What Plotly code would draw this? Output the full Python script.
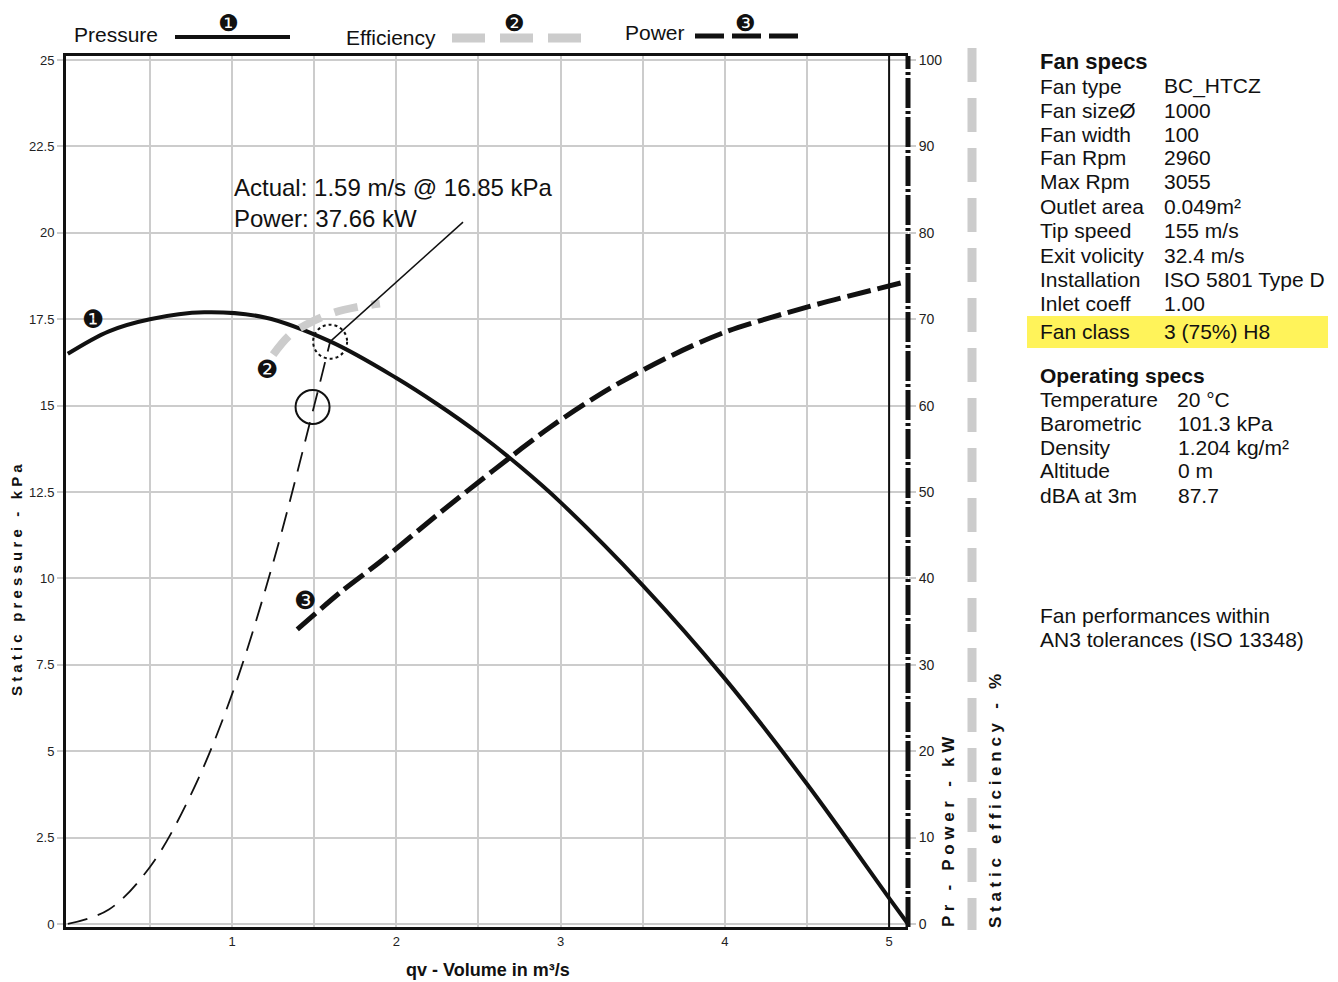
import plotly.graph_objects as go

# ---------------- data ----------------
press_q = [0.0, 0.25, 0.5, 0.83, 1.2, 1.6, 2.0, 2.25, 2.5, 2.75, 3.0, 3.5, 4.0, 4.5, 5.0, 5.115]
press_kpa = [16.5, 17.15, 17.5, 17.7, 17.55, 16.85, 15.8, 15.04, 14.2, 13.25, 12.2, 9.8, 7.1, 4.05, 0.75, 0.0]

power_q = [1.397, 1.66, 1.9, 2.246, 2.591, 2.936, 3.30, 3.687, 4.0, 4.5, 5.115]
power_kw = [34.1, 38.4, 41.9, 47.3, 52.5, 57.5, 62.0, 65.9, 68.5, 71.4, 74.4]

eff_q = [1.25, 1.354, 1.475, 1.627, 1.76, 1.90]
eff_pct = [65.9, 68.2, 69.6, 70.8, 71.4, 71.8]

sys_q = [0.0, 0.25, 0.5, 0.75, 1.0, 1.25, 1.5, 1.597]
sys_kpa = [0.0, 0.42, 1.65, 3.75, 6.65, 10.45, 15.0, 16.85]

marker_q = [1.49]
marker_kpa = [14.96]

op_q = 1.597
op_kpa = 16.85
leader_end_q = 2.406
leader_end_kpa = 20.31
q_limit = 5.0

x_tickvals = [0.5, 1, 1.5, 2, 2.5, 3, 3.5, 4, 4.5, 5]
x_ticktext = ["", "1", "", "2", "", "3", "", "4", "", "5"]
y_tickvals = [0, 2.5, 5, 7.5, 10, 12.5, 15, 17.5, 20, 22.5, 25]
y_ticktext = ["0", "2.5", "5", "7.5", "10", "12.5", "15", "17.5", "20", "22.5", "25"]
y2_tickvals = [0, 10, 20, 30, 40, 50, 60, 70, 80, 90, 100]

actual_text = "Actual: 1.59 m/s @ 16.85 kPa<br>Power: 37.66 kW"

spec_labels = ["Fan type", "Fan size\u00d8", "Fan width", "Fan Rpm", "Max Rpm", "Outlet area",
               "Tip speed", "Exit volicity", "Installation", "Inlet coeff", "Fan class"]
spec_values = ["BC_HTCZ", "1000", "100", "2960", "3055", "0.049m\u00b2",
               "155 m/s", "32.4 m/s", "ISO 5801 Type D", "1.00", "3 (75%) H8"]
op_labels = ["Temperature", "Barometric", "Density", "Altitude", "dBA at 3m"]
op_values = ["20 \u00b0C", "101.3 kPa", "1.204 kg/m\u00b2", "0 m", "87.7"]
note_lines = ["Fan performances within", "AN3 tolerances (ISO 13348)"]

# ---------------- layout helpers ----------------
OFF = 8                      # page body margin
W, H = 1338 - OFF, 982 - OFF
L, R, T, B = 66, 908, 56, 927  # plot area in screen pixels
X0, X1 = -0.011, 5.115
Y0, Y1 = -0.087, 25.116
PXU = (R - L) / (X1 - X0)
PYU = (B - T) / (Y1 - Y0)


def px(x):
    return (x - L) / (R - L)


def py(y):
    return (B - y) / (B - T)


FONT = "Liberation Sans, Arial, sans-serif"
BLACK = "#111111"
GREY = "#cccccc"

fig = go.Figure()

fig.add_trace(go.Scatter(x=sys_q, y=sys_kpa, mode="lines", yaxis="y",
                         line=dict(color=BLACK, width=1.8, dash="20px,11px", shape="spline"),
                         hoverinfo="skip", showlegend=False))
fig.add_trace(go.Scatter(x=press_q, y=press_kpa, mode="lines", yaxis="y",
                         line=dict(color=BLACK, width=4, shape="spline", smoothing=1.0),
                         name="Pressure", showlegend=False))
fig.add_trace(go.Scatter(x=power_q, y=power_kw, mode="lines", yaxis="y2",
                         line=dict(color=BLACK, width=5, dash="24px,7px", shape="spline", smoothing=0.8),
                         name="Power", showlegend=False))
fig.add_trace(go.Scatter(x=eff_q, y=eff_pct, mode="lines", yaxis="y3",
                         line=dict(color=GREY, width=8, dash="24px,14px", shape="spline"),
                         name="Efficiency", showlegend=False))
fig.add_trace(go.Scatter(x=marker_q, y=marker_kpa, mode="markers", yaxis="y",
                         marker=dict(symbol="circle-open", size=34, color=BLACK, line=dict(width=2, color=BLACK)),
                         hoverinfo="skip", showlegend=False))

shapes = []
shapes.append(dict(type="line", xref="x", yref="paper", x0=q_limit, x1=q_limit, y0=0, y1=1,
                   line=dict(color=BLACK, width=2)))
shapes.append(dict(type="line", xref="paper", yref="paper", x0=1, x1=1, y0=0, y1=1,
                   line=dict(color=BLACK, width=5, dash="30px,3px,3px,3px")))
shapes.append(dict(type="line", xref="paper", yref="paper", x0=px(972), x1=px(972), y0=py(48), y1=py(930),
                   line=dict(color=GREY, width=9, dash="34px,16px")))
shapes.append(dict(type="line", xref="x", yref="y", x0=op_q, y0=op_kpa, x1=leader_end_q, y1=leader_end_kpa,
                   line=dict(color=BLACK, width=1.5)))
rx, ry = 17 / PXU, 17 / PYU
shapes.append(dict(type="circle", xref="x", yref="y", x0=op_q - rx, x1=op_q + rx, y0=op_kpa - ry, y1=op_kpa + ry,
                   line=dict(color=BLACK, width=2, dash="dot")))
shapes.append(dict(type="rect", xref="paper", yref="paper", x0=px(1027), x1=px(1328), y0=py(348), y1=py(316),
                   fillcolor="#fff35a", line=dict(width=0), layer="below"))
shapes.append(dict(type="line", xref="paper", yref="paper", x0=px(175), x1=px(290), y0=py(37), y1=py(37),
                   line=dict(color=BLACK, width=4)))
shapes.append(dict(type="line", xref="paper", yref="paper", x0=px(452), x1=px(581), y0=py(38), y1=py(38),
                   line=dict(color=GREY, width=9, dash="33px,15px")))
shapes.append(dict(type="line", xref="paper", yref="paper", x0=px(695), x1=px(798), y0=py(36), y1=py(36),
                   line=dict(color=BLACK, width=5, dash="29px,8px")))

ann = []


def text(x, y, s, size=22, bold=False, xanchor="left", yanchor="middle", angle=0, color=BLACK, family=FONT):
    if bold:
        s = "<b>" + s + "</b>"
    ann.append(dict(x=px(x), y=py(y), xref="paper", yref="paper", text=s, showarrow=False,
                    xanchor=xanchor, yanchor=yanchor, textangle=angle,
                    font=dict(size=size, color=color, family=family)))


text(72, 34, "Pressure", 21)
text(344, 37, "Efficiency", 21)
text(623, 33, "Power", 21)
DING = "DejaVu Sans, sans-serif"
for (xx, ch) in [(228, "\u2776"), (514, "\u2777"), (745, "\u2778")]:
    text(xx, 8, ch, 23, xanchor="center", yanchor="top", family=DING)
for (xx, yy, ch) in [(93, 319, "\u2776"), (267, 369, "\u2777"), (305, 600, "\u2778")]:
    text(xx, yy, ch, 25, xanchor="center", family=DING)

ann.append(dict(x=px(232), y=py(172), xref="paper", yref="paper", text=actual_text, showarrow=False,
                xanchor="left", yanchor="top", align="left",
                font=dict(size=24, color=BLACK, family=FONT)))

text(16, 580, "S t a t i c   p r e s s u r e   -   k P a", 15, bold=True, xanchor="center", angle=-90)
text(948, 832, "P r   -   P o w e r   -   k W", 17, bold=True, xanchor="center", angle=-90)
text(995, 801, "S t a t i c   e f f i c i e n c y   -   %", 17, bold=True, xanchor="center", angle=-90)
text(488, 970, "qv - Volume in m\u00b3/s", 18, bold=True, xanchor="center")

text(1038, 61, "Fan specs", 22, bold=True)
row_y = [86, 110, 134, 158, 182, 207, 231, 255, 279, 303, 331]
for lab, val, yy in zip(spec_labels, spec_values, row_y):
    text(1038, yy, lab, 21)
    text(1162, yy, val, 21)
text(1038, 375, "Operating specs", 21, bold=True)
op_y = [399, 423, 447, 471, 495]
op_x = [1175, 1176, 1176, 1176, 1176]
for lab, val, yy, xx in zip(op_labels, op_values, op_y, op_x):
    text(1038, yy, lab, 21)
    text(xx, yy, val, 21)
text(1038, 615, note_lines[0], 21)
text(1038, 639, note_lines[1], 21)

fig.update_layout(
    width=W, height=H, autosize=False,
    margin=dict(l=L - OFF, r=W - (R - OFF), t=T - OFF, b=H - (B - OFF), pad=0),
    paper_bgcolor="white", plot_bgcolor="white",
    font=dict(family=FONT, color=BLACK),
    showlegend=False,
    xaxis=dict(range=[X0, X1], tickvals=x_tickvals, ticktext=x_ticktext,
               showgrid=True, gridcolor=GREY, gridwidth=2, zeroline=False,
               showline=True, linecolor=BLACK, linewidth=3, mirror=True,
               ticks="", tickfont=dict(size=13, color="#222222")),
    yaxis=dict(range=[Y0, Y1], tickvals=y_tickvals, ticktext=y_ticktext,
               showgrid=True, gridcolor=GREY, gridwidth=2, zeroline=False,
               showline=True, linecolor=BLACK, linewidth=3,
               ticks="outside", ticklen=6, tickwidth=2, tickcolor=GREY,
               tickfont=dict(size=13, color="#222222")),
    yaxis2=dict(range=[Y0 * 4, Y1 * 4], overlaying="y", side="right", tickvals=y2_tickvals,
                showgrid=False, zeroline=False, showline=False,
                ticks="outside", ticklen=7, tickwidth=2, tickcolor=GREY,
                tickfont=dict(size=14, color="#222222")),
    yaxis3=dict(range=[Y0 * 4, Y1 * 4], overlaying="y", visible=False),
    shapes=shapes,
    annotations=ann,
)

fig.write_html("out.html")
